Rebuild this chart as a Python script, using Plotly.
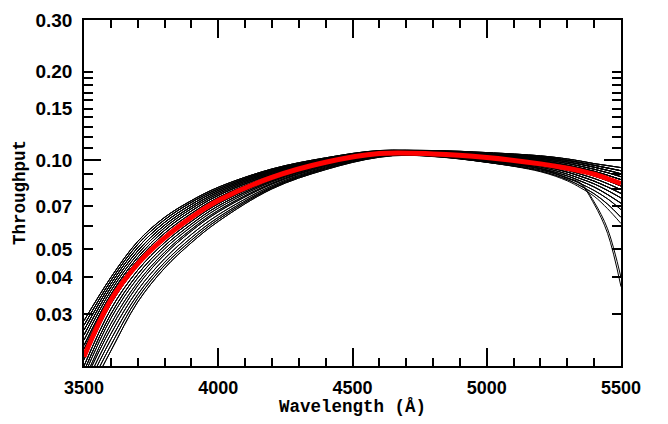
import math
import plotly.graph_objects as go

# Wavelength grid (Angstrom) shared by every curve
wavelength = [3500, 3600, 3700, 3800, 3900, 4000, 4200, 4400, 4600,
              4800, 5000, 5200, 5300, 5350, 5400, 5450, 5500]

# Blue-side parts of the individual curves (3500..4600 A)
blue_01 = [0.0285, 0.0400, 0.0530, 0.0640, 0.0730, 0.0810, 0.0935, 0.1020, 0.1080]
blue_02 = [0.0275, 0.0390, 0.0518, 0.0628, 0.0720, 0.0800, 0.0928, 0.1015, 0.1075]
blue_03 = [0.0265, 0.0380, 0.0505, 0.0615, 0.0708, 0.0790, 0.0920, 0.1010, 0.1072]
blue_04 = [0.0255, 0.0370, 0.0492, 0.0602, 0.0696, 0.0780, 0.0912, 0.1005, 0.1068]
blue_05 = [0.0245, 0.0360, 0.0480, 0.0590, 0.0685, 0.0770, 0.0905, 0.1000, 0.1065]
blue_06 = [0.0235, 0.0350, 0.0468, 0.0578, 0.0673, 0.0760, 0.0897, 0.0995, 0.1062]
blue_07 = [0.0228, 0.0343, 0.0458, 0.0565, 0.0660, 0.0748, 0.0888, 0.0990, 0.1058]
blue_08 = [0.0220, 0.0335, 0.0448, 0.0553, 0.0648, 0.0737, 0.0880, 0.0985, 0.1055]
blue_09 = [0.0210, 0.0325, 0.0437, 0.0540, 0.0635, 0.0725, 0.0870, 0.0980, 0.1052]
blue_10 = [0.0200, 0.0312, 0.0423, 0.0525, 0.0620, 0.0712, 0.0860, 0.0975, 0.1050]
blue_11 = [0.0192, 0.0300, 0.0410, 0.0512, 0.0607, 0.0700, 0.0852, 0.0970, 0.1047]
blue_12 = [0.0185, 0.0290, 0.0398, 0.0500, 0.0595, 0.0688, 0.0845, 0.0965, 0.1045]
blue_13 = [0.0178, 0.0278, 0.0385, 0.0487, 0.0583, 0.0676, 0.0836, 0.0960, 0.1042]
blue_14 = [0.0175, 0.0268, 0.0375, 0.0478, 0.0575, 0.0668, 0.0830, 0.0955, 0.1038]
blue_15 = [0.0168, 0.0257, 0.0362, 0.0463, 0.0560, 0.0653, 0.0820, 0.0948, 0.1035]
blue_16 = [0.0162, 0.0246, 0.0350, 0.0450, 0.0546, 0.0640, 0.0812, 0.0942, 0.1032]
blue_17 = [0.0156, 0.0235, 0.0340, 0.0440, 0.0535, 0.0630, 0.0806, 0.0936, 0.1028]
blue_18 = [0.0150, 0.0225, 0.0330, 0.0430, 0.0525, 0.0620, 0.0800, 0.0930, 0.1025]

# Red-side parts of the individual curves (4800..5500 A)
red_01 = [0.1080, 0.1063, 0.1036, 0.1011, 0.0994, 0.0975, 0.0960, 0.0945]
red_02 = [0.1075, 0.1058, 0.1028, 0.1000, 0.0982, 0.0962, 0.0942, 0.0922]
red_03 = [0.1070, 0.1052, 0.1018, 0.0988, 0.0969, 0.0948, 0.0925, 0.0900]
red_04 = [0.1066, 0.1045, 0.1008, 0.0976, 0.0955, 0.0933, 0.0908, 0.0880]
red_05 = [0.1062, 0.1038, 0.0998, 0.0963, 0.0941, 0.0918, 0.0890, 0.0860]
red_06 = [0.1058, 0.1030, 0.0988, 0.0950, 0.0927, 0.0902, 0.0872, 0.0840]
red_07 = [0.1054, 0.1022, 0.0978, 0.0938, 0.0912, 0.0885, 0.0853, 0.0818]
red_08 = [0.1050, 0.1015, 0.0968, 0.0925, 0.0897, 0.0868, 0.0833, 0.0795]
red_09 = [0.1046, 0.1008, 0.0958, 0.0912, 0.0882, 0.0850, 0.0812, 0.0772]
red_10 = [0.1042, 0.1000, 0.0948, 0.0898, 0.0866, 0.0832, 0.0790, 0.0745]
red_11 = [0.1038, 0.0993, 0.0938, 0.0885, 0.0850, 0.0812, 0.0765, 0.0715]
red_12 = [0.1035, 0.0987, 0.0928, 0.0872, 0.0833, 0.0790, 0.0740, 0.0680]
red_13 = [0.1032, 0.0985, 0.0920, 0.0860, 0.0818, 0.0770, 0.0710, 0.0640]
red_14 = [0.1030, 0.0985, 0.0915, 0.0852, 0.0806, 0.0755, 0.0685, 0.0610]
drop_01 = [0.1045, 0.1000, 0.0935, 0.0868, 0.0830, 0.0710, 0.0565, 0.0372]
drop_02 = [0.1047, 0.1003, 0.0938, 0.0872, 0.0836, 0.0722, 0.0585, 0.0400]

# Which blue part joins which red part for each drawn curve
curve_pairs = [
    (blue_01, red_01), (blue_01, red_04), (blue_02, red_02), (blue_02, red_06),
    (blue_03, red_03), (blue_03, red_08), (blue_04, red_01), (blue_04, red_05),
    (blue_05, red_02), (blue_05, red_07), (blue_06, red_04), (blue_06, red_10),
    (blue_07, red_03), (blue_07, red_09), (blue_08, red_05), (blue_08, red_11),
    (blue_09, red_06), (blue_09, drop_01), (blue_10, red_07), (blue_10, red_12),
    (blue_11, red_08), (blue_11, red_13), (blue_12, red_09), (blue_12, drop_02),
    (blue_13, red_10), (blue_13, red_14), (blue_14, red_06), (blue_14, red_11),
    (blue_15, red_08), (blue_15, red_12), (blue_16, red_09), (blue_16, red_13),
    (blue_17, red_10), (blue_17, red_03), (blue_18, red_11), (blue_18, red_07),
    (blue_01, red_02), (blue_02, red_03), (blue_02, red_05), (blue_03, red_01),
    (blue_03, red_06), (blue_04, red_02), (blue_04, red_09), (blue_05, red_04),
    (blue_06, red_03), (blue_06, red_07), (blue_07, red_05), (blue_08, red_02),
    (blue_09, red_04), (blue_10, red_05), (blue_11, red_06),
]

# Mean throughput (thick red curve)
mean_throughput = [0.0215, 0.0335, 0.0445, 0.0545, 0.0640, 0.0730, 0.0875, 0.0985, 0.1055,
                   0.1052, 0.1023, 0.0973, 0.0940, 0.0920, 0.0897, 0.0866, 0.0834]

# Axis tick labels
y_tick_vals = [0.03, 0.04, 0.05, 0.06, 0.07, 0.08, 0.09, 0.10, 0.11, 0.12, 0.13, 0.14,
               0.15, 0.16, 0.17, 0.18, 0.19, 0.20, 0.30]
y_tick_text = ["0.03", "0.04", "0.05", "", "0.07", "", "", "0.10", "", "", "", "",
               "0.15", "", "", "", "", "0.20", "0.30"]
x_range = [3500, 5500]
y_range = [0.02, 0.30]
x_title = "Wavelength (Å)"
y_title = "Throughput"

fig = go.Figure()
for bpart, rpart in curve_pairs:
    fig.add_trace(go.Scatter(x=wavelength, y=bpart + rpart, mode="lines",
                             line=dict(color="black", width=1, shape="spline", smoothing=1),
                             showlegend=False, hoverinfo="skip"))
fig.add_trace(go.Scatter(x=wavelength, y=mean_throughput, mode="lines",
                         line=dict(color="#ff0000", width=5, shape="spline", smoothing=1),
                         showlegend=False, hoverinfo="skip"))
fig.add_trace(go.Scatter(x=[None], y=[None], yaxis="y2", showlegend=False, hoverinfo="skip"))

tick_font = dict(family="Liberation Sans", size=19, color="black", weight="bold")
xtick_font = dict(family="Liberation Sans", size=18, color="black", weight="bold")
title_font = dict(family="Liberation Mono", size=17.5, color="black", weight="bold")
yr = [math.log10(y_range[0]) - 1e-4, math.log10(y_range[1]) + 1e-4]

# page body adds an 8px offset; size the figure so the plot lands where the reference has it
fig.update_layout(
    width=660, height=416,
    margin=dict(l=76, r=47, t=2, b=58),
    paper_bgcolor="white", plot_bgcolor="white",
    xaxis=dict(range=x_range, dtick=500, tick0=3500, ticks="inside", ticklen=18,
               tickwidth=1.5, tickcolor="black", showline=True, linewidth=1.5,
               linecolor="black", mirror="ticks", showgrid=False, zeroline=False,
               tickfont=xtick_font, ticklabelstandoff=5, ticklabeloverflow="allow",
               minor=dict(dtick=100, tick0=3500, ticks="inside", ticklen=8,
                          tickwidth=1.5, tickcolor="black", showgrid=False)),
    yaxis=dict(type="log", range=yr, tickvals=y_tick_vals, ticktext=y_tick_text,
               ticks="inside", ticklen=9, tickwidth=1.5, tickcolor="black",
               showline=True, linewidth=1.5, linecolor="black", mirror="ticks",
               showgrid=False, zeroline=False, tickfont=tick_font, ticklabelstandoff=6,
               ticklabeloverflow="allow"),
    yaxis2=dict(type="log", range=yr, overlaying="y", side="left", anchor="x",
                tickvals=[0.1], ticktext=[""], ticks="inside", ticklen=17,
                tickwidth=1.5, tickcolor="black", showline=True, linewidth=1.5,
                linecolor="black", mirror="ticks", showgrid=False, zeroline=False),
    annotations=[
        dict(text=x_title, xref="paper", yref="paper", x=0.5, y=0, yshift=-41,
             xanchor="center", yanchor="middle", showarrow=False, font=title_font),
        dict(text=y_title, xref="paper", yref="paper", x=0, y=0.5, xshift=-64,
             xanchor="center", yanchor="middle", textangle=-90, showarrow=False,
             font=title_font),
    ],
)

fig.write_html("out.html")
